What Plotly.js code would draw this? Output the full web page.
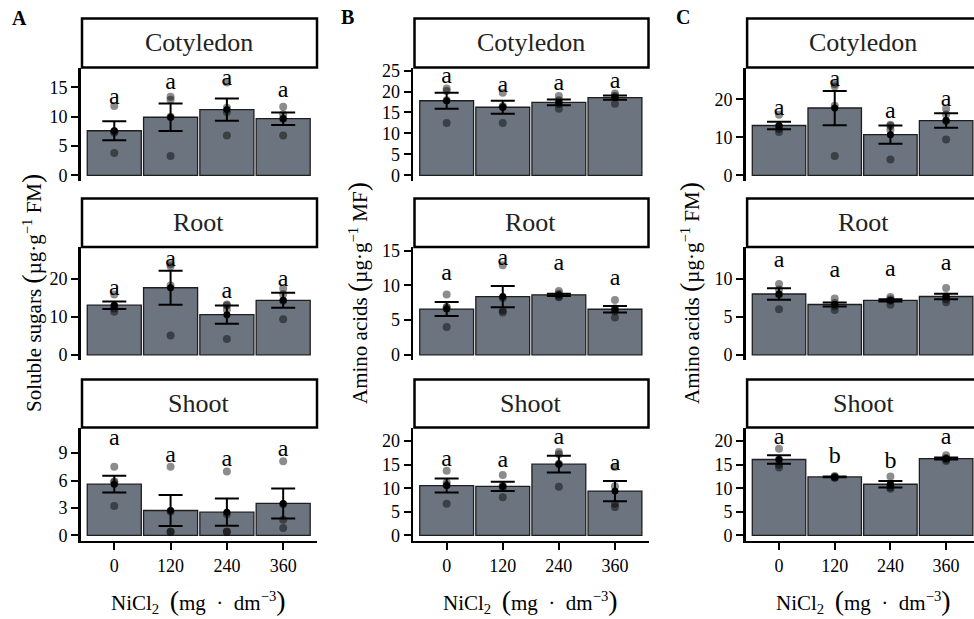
<!DOCTYPE html>
<html><head><meta charset="utf-8">
<script src="https://cdn.plot.ly/plotly-3.0.1.min.js"></script>
<style>html,body{margin:0;padding:0;background:#fff;}#chart{width:974px;height:619px;}</style>
</head><body><div id="chart"></div>
<script>
// ---------- DATA ----------
const categories = ["0", "120", "240", "360"];
const organs = ["Cotyledon", "Root", "Shoot"];

// A: soluble sugars (µg·g-1 FM)
const sugarCotMean = [7.6, 9.9, 11.2, 9.65];
const sugarCotSE = [1.63, 2.35, 1.9, 1.06];
const sugarCotPts = [[11.8, 7.5, 7.3, 3.8], [13.4, 12.9, 10.0, 3.3], [15.8, 11.5, 10.8, 6.8], [11.7, 10.4, 9.7, 6.8]];
const sugarCotLetters = ["a", "a", "a", "a"];
const sugarCotLetterY = [13.1, 15.7, 16.5, 14.3];

const sugarRootMean = [13.1, 17.7, 10.6, 14.4];
const sugarRootSE = [1.0, 4.5, 2.4, 2.0];
const sugarRootPts = [[15.9, 12.9, 12.2, 11.4], [24.0, 23.4, 18.3, 5.1], [13.3, 13.0, 11.9, 4.2], [17.5, 16.0, 14.3, 9.4]];
const sugarRootLetters = ["a", "a", "a", "a"];
const sugarRootLetterY = [17.4, 25.1, 16.7, 19.8];

const sugarShootMean = [5.6, 2.72, 2.54, 3.49];
const sugarShootSE = [0.92, 1.69, 1.5, 1.65];
const sugarShootPts = [[7.5, 5.9, 5.8, 3.2], [7.5, 2.6, 0.4, 0.4], [7.0, 2.3, 0.4, 0.4], [8.1, 3.4, 1.7, 0.8]];
const sugarShootLetters = ["a", "a", "a", "a"];
const sugarShootLetterY = [10.55, 8.7, 8.2, 9.3];

// B: amino acids (µg·g-1 MF)
const aminoMFCotMean = [17.8, 16.25, 17.4, 18.55];
const aminoMFCotSE = [1.9, 1.55, 0.7, 0.5];
const aminoMFCotPts = [[20.7, 20.1, 17.9, 12.5], [19.7, 16.5, 16.3, 12.5], [18.9, 17.9, 17.0, 15.9], [19.5, 19.0, 18.6, 17.1]];
const aminoMFCotLetters = ["a", "a", "a", "a"];
const aminoMFCotLetterY = [23.4, 21.3, 21.8, 22.3];

const aminoMFRootMean = [6.6, 8.4, 8.65, 6.57];
const aminoMFRootSE = [1.0, 1.53, 0.17, 0.48];
const aminoMFRootPts = [[8.7, 6.9, 6.8, 4.0], [12.9, 8.2, 6.4, 6.1], [9.2, 8.8, 8.4, 8.3], [7.9, 6.7, 6.3, 5.4]];
const aminoMFRootLetters = ["a", "a", "a", "a"];
const aminoMFRootLetterY = [11.6, 13.75, 13.1, 11.0];

const aminoMFShootMean = [10.57, 10.4, 15.1, 9.4];
const aminoMFShootSE = [1.49, 0.96, 1.77, 2.16];
const aminoMFShootPts = [[13.7, 11.2, 10.7, 6.7], [12.8, 10.6, 10.1, 8.1], [17.7, 17.2, 15.2, 10.3], [14.5, 10.4, 6.7, 6.0]];
const aminoMFShootLetters = ["a", "a", "a", "a"];
const aminoMFShootLetterY = [16.1, 15.8, 20.6, 15.2];

// C: amino acids (µg·g-1 FM)
const aminoFMCotMean = [13.1, 17.7, 10.7, 14.4];
const aminoFMCotSE = [1.0, 4.5, 2.4, 1.9];
const aminoFMCotPts = [[15.9, 12.9, 12.2, 11.4], [24.0, 23.4, 18.3, 5.1], [13.3, 13.0, 11.9, 4.2], [17.5, 16.0, 14.3, 9.4]];
const aminoFMCotLetters = ["a", "a", "a", "a"];
const aminoFMCotLetterY = [17.4, 25.1, 16.7, 19.8];

const aminoFMRootMean = [8.0, 6.62, 7.17, 7.67];
const aminoFMRootSE = [0.77, 0.26, 0.15, 0.35];
const aminoFMRootPts = [[9.3, 8.6, 7.9, 6.0], [7.4, 6.8, 6.4, 5.9], [7.6, 7.3, 7.1, 6.6], [8.8, 7.7, 7.3, 6.9]];
const aminoFMRootLetters = ["a", "a", "a", "a"];
const aminoFMRootLetterY = [12.4, 11.0, 11.2, 12.0];

const aminoFMShootMean = [16.1, 12.4, 10.85, 16.3];
const aminoFMShootSE = [0.92, 0.08, 0.68, 0.2];
const aminoFMShootPts = [[18.4, 16.1, 15.0, 14.4], [12.6, 12.4, 12.3, 12.2], [12.5, 10.7, 10.2, 9.9], [17.0, 16.4, 16.1, 15.8]];
const aminoFMShootLetters = ["a", "b", "b", "a"];
const aminoFMShootLetterY = [20.7, 16.7, 15.5, 20.6];

const panelLabels = ["A", "B", "C"];
const P_OPEN = '<span style="font-size:28px">(</span>';
const P_CLOSE = '<span style="font-size:28px">)</span>';
const yTitles = [
  'Soluble sugars\u00a0' + P_OPEN + 'µg·g<sup>−1</sup>\u00a0FM' + P_CLOSE,
  'Amino acids\u00a0' + P_OPEN + 'µg·g<sup>−1</sup>\u00a0MF' + P_CLOSE,
  'Amino acids\u00a0' + P_OPEN + 'µg·g<sup>−1</sup>\u00a0FM' + P_CLOSE
];
const xTitle = 'NiCl<sub>2</sub>\u00a0\u00a0' + P_OPEN + 'mg\u00a0\u00a0·\u00a0\u00a0dm<sup>−3</sup>' + P_CLOSE;

// ---------- LAYOUT / STYLE ----------
const W = 974, H = 619;
const FONT = '"Liberation Serif", "DejaVu Serif", serif';
const BAR_FILL = '#6c7480';
const colX = [[80.5, 317], [413, 648.5], [745.6, 974]];
const pxPerCat = [56.3, 56.1, 55.7];
const rowY = [[67.5, 180.5], [247, 360], [427.5, 540.5]];
const stripY = [[18.5, 67.5], [198.5, 247], [379.5, 427.5]];
const stripCX = [198.7, 530.7, 863];
const yTitleX = [31, 357, 689];
const labelPos = [[19, 18], [347, 17], [683, 17]];

const panels = [
  {c: 0, r: 0, m: sugarCotMean, se: sugarCotSE, p: sugarCotPts, L: sugarCotLetters, LY: sugarCotLetterY, ymax: 17.5, dt: 5},
  {c: 0, r: 1, m: sugarRootMean, se: sugarRootSE, p: sugarRootPts, L: sugarRootLetters, LY: sugarRootLetterY, ymax: 27.1, dt: 10},
  {c: 0, r: 2, m: sugarShootMean, se: sugarShootSE, p: sugarShootPts, L: sugarShootLetters, LY: sugarShootLetterY, ymax: 11.24, dt: 3},
  {c: 1, r: 0, m: aminoMFCotMean, se: aminoMFCotSE, p: aminoMFCotPts, L: aminoMFCotLetters, LY: aminoMFCotLetterY, ymax: 24.5, dt: 5},
  {c: 1, r: 1, m: aminoMFRootMean, se: aminoMFRootSE, p: aminoMFRootPts, L: aminoMFRootLetters, LY: aminoMFRootLetterY, ymax: 14.8, dt: 5},
  {c: 1, r: 2, m: aminoMFShootMean, se: aminoMFShootSE, p: aminoMFShootPts, L: aminoMFShootLetters, LY: aminoMFShootLetterY, ymax: 21.8, dt: 5},
  {c: 2, r: 0, m: aminoFMCotMean, se: aminoFMCotSE, p: aminoFMCotPts, L: aminoFMCotLetters, LY: aminoFMCotLetterY, ymax: 27.0, dt: 10},
  {c: 2, r: 1, m: aminoFMRootMean, se: aminoFMRootSE, p: aminoFMRootPts, L: aminoFMRootLetters, LY: aminoFMRootLetterY, ymax: 13.5, dt: 5},
  {c: 2, r: 2, m: aminoFMShootMean, se: aminoFMShootSE, p: aminoFMShootPts, L: aminoFMShootLetters, LY: aminoFMShootLetterY, ymax: 21.8, dt: 5}
];

const traces = [];
const layout = {
  width: W, height: H, margin: {l: 0, r: 0, t: 0, b: 0},
  paper_bgcolor: '#fff', plot_bgcolor: '#fff', showlegend: false,
  font: {family: FONT, color: '#000'},
  shapes: [], annotations: []
};

panels.forEach((P, i) => {
  const n = i + 1;
  const xs = 'x' + n, ys = 'y' + n;
  const xk = 'xaxis' + (n === 1 ? '' : n), yk = 'yaxis' + (n === 1 ? '' : n);
  const [x0, x1] = colX[P.c];
  const [yt, yb] = rowY[P.r];
  const bottom = P.r === 2;
  layout[xk] = {
    domain: [x0 / W, x1 / W], anchor: ys, type: 'category',
    categoryorder: 'array', categoryarray: categories,
    range: [-0.6, -0.6 + (x1 - x0) / pxPerCat[P.c]],
    showgrid: false, zeroline: false,
    showline: bottom, linecolor: '#000', linewidth: 2.5,
    ticks: bottom ? 'outside' : '', ticklen: 7, tickwidth: 2, tickcolor: '#000',
    showticklabels: bottom, tickfont: {family: FONT, size: 18, color: '#000'}
  };
  layout[yk] = {
    domain: [1 - yb / H, 1 - yt / H], anchor: xs,
    range: [-0.05 * P.ymax, 1.05 * P.ymax], dtick: P.dt, tick0: 0,
    showgrid: false, zeroline: false,
    showline: true, linecolor: '#000', linewidth: 2.5,
    ticks: 'outside', ticklen: 7, tickwidth: 2, tickcolor: '#000',
    tickfont: {family: FONT, size: 18, color: '#000'}
  };
  // bars
  traces.push({
    type: 'bar', x: categories, y: P.m, xaxis: xs, yaxis: ys, width: 0.96,
    marker: {color: BAR_FILL, line: {color: '#1e1e1e', width: 1.3}}, hoverinfo: 'skip'
  });
  // raw points
  const px = [], py = [];
  P.p.forEach((arr, k) => arr.forEach(v => { px.push(categories[k]); py.push(v); }));
  traces.push({
    type: 'scatter', mode: 'markers', x: px, y: py, xaxis: xs, yaxis: ys,
    marker: {color: 'rgba(0,0,0,0.45)', size: 8}, cliponaxis: false, hoverinfo: 'skip'
  });
  // mean + SE
  traces.push({
    type: 'scatter', mode: 'markers', x: categories, y: P.m, xaxis: xs, yaxis: ys,
    marker: {color: '#000', size: 7},
    error_y: {type: 'data', array: P.se, visible: true, color: '#000', thickness: 2, width: 12},
    cliponaxis: false, hoverinfo: 'skip'
  });
  // letters
  traces.push({
    type: 'scatter', mode: 'text', x: categories, y: P.LY, text: P.L, xaxis: xs, yaxis: ys,
    textposition: 'middle center', textfont: {family: FONT, size: 24, color: '#000'},
    cliponaxis: false, hoverinfo: 'skip'
  });
  // strip
  const [s0, s1] = stripY[P.r];
  layout.shapes.push({
    type: 'rect', xref: 'paper', yref: 'paper',
    x0: (x0 + 1.5) / W, x1: P.c === 2 ? 1.02 : x1 / W,
    y0: 1 - s1 / H, y1: 1 - s0 / H,
    line: {color: '#000', width: 2.5}, fillcolor: '#fff', layer: 'above'
  });
  layout.annotations.push({
    xref: 'paper', yref: 'paper', x: stripCX[P.c] / W, y: 1 - (s0 + s1) / 2 / H,
    text: organs[P.r], showarrow: false, xanchor: 'center', yanchor: 'middle',
    font: {family: FONT, size: 26, color: '#222'}
  });
});

for (let c = 0; c < 3; c++) {
  layout.annotations.push({
    xref: 'paper', yref: 'paper', x: yTitleX[c] / W, y: 1 - 293 / H,
    text: yTitles[c], textangle: -90, showarrow: false, xanchor: 'center', yanchor: 'middle',
    font: {family: FONT, size: 21, color: '#000'}
  });
  layout.annotations.push({
    xref: 'paper', yref: 'paper', x: stripCX[c] / W, y: 1 - 601 / H,
    text: xTitle, showarrow: false, xanchor: 'center', yanchor: 'middle',
    font: {family: FONT, size: 21, color: '#000'}
  });
  layout.annotations.push({
    xref: 'paper', yref: 'paper', x: labelPos[c][0] / W, y: 1 - labelPos[c][1] / H,
    text: '<b>' + panelLabels[c] + '</b>', showarrow: false, xanchor: 'center', yanchor: 'middle',
    font: {family: FONT, size: 20, color: '#000'}
  });
}

Plotly.newPlot('chart', traces, layout, {staticPlot: true, displayModeBar: false});
</script>
</body></html>
